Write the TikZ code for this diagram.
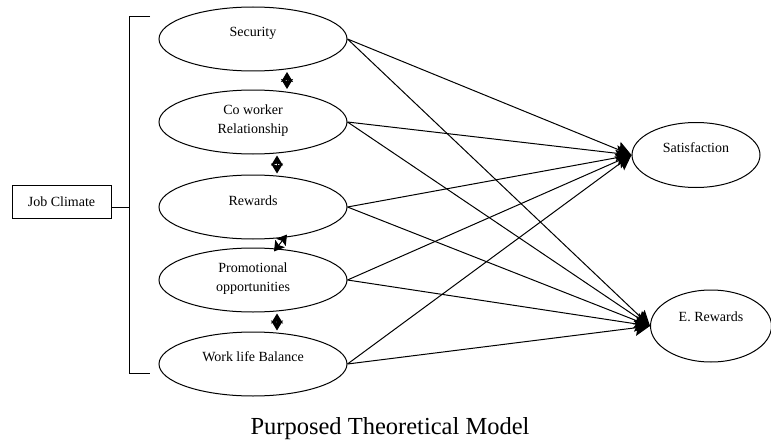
\documentclass[tikz,border=0pt]{standalone}
\usepackage{fontspec}
\setmainfont{Liberation Serif}
\usetikzlibrary{arrows.meta,shapes.geometric}
\begin{document}
\begin{tikzpicture}[x=1pt,y=-1pt,
  every node/.style={font=\fontsize{14}{16}\selectfont},
  lell/.style={draw,ellipse,minimum width=188pt,minimum height=64pt,inner sep=0pt,line width=1pt},
  lbl/.style={inner sep=0pt,align=center,font=\fontsize{14}{19}\selectfont},
  conn/.style={line width=1pt,-{Stealth[length=15pt,width=16pt,inset=2.5pt,fill=black]}},
  dbl/.style={line width=1pt,{Stealth[length=10pt,width=12pt,inset=2pt,fill=black]}-{Stealth[length=10pt,width=12pt,inset=2pt,fill=black]}},
  brk/.style={line width=1pt}]
\useasboundingbox (0,0) rectangle (771,444);
% left ellipses
\node[lell] (sec) at (253,39) {};
\node[lbl] (secT) at (253,33) {Security};
\node[lell] (cow) at (253,122) {};
\node[lbl] (cowT) at (253,121) {Co worker\\Relationship};
\node[lell] (rew) at (253,207) {};
\node[lbl] (rewT) at (253,201) {Rewards};
\node[lell] (pro) at (253,280) {};
\node[lbl] (proT) at (253,279) {Promotional\\opportunities};
\node[lell] (wlb) at (253,364) {};
\node[lbl] (wlbT) at (253,357) {Work life Balance};
% right ellipses
\node[draw,ellipse,minimum width=128pt,minimum height=65pt,inner sep=0pt,line width=1pt] (sat) at (696,155) {};
\node[lbl] (satT) at (696,148) {Satisfaction};
\node[draw,ellipse,minimum width=121pt,minimum height=72pt,inner sep=0pt,line width=1pt] (erw) at (711,326) {};
\node[lbl] (erwT) at (711,317) {E. Rewards};
% job climate
\node[draw,line width=1pt,minimum width=99pt,minimum height=33pt,inner sep=0pt] (job) at (61.5,201.5) {Job Climate};
% bracket
\coordinate (bT) at (129,17);
\coordinate (bTe) at (150,17);
\coordinate (bB) at (129,373);
\coordinate (bBe) at (150,373);
\coordinate (bM) at (129,207);
\draw[brk] (bTe) -- (bT) -- (bB) -- (bBe);
\draw[brk] (job.east |- bM) -- (bM);
% vertical double arrows
\draw[dbl] ([xshift=34pt,yshift=-0.5pt]sec.south) -- ([xshift=34pt,yshift=0.5pt]cow.north);
\draw[dbl] ([xshift=24pt,yshift=-1pt]cow.south) -- ([xshift=24pt,yshift=1pt]rew.north);
\draw[dbl] ([xshift=34pt,yshift=5pt]rew.south) -- ([xshift=21pt,yshift=-4pt]pro.north);
\draw[dbl] ([xshift=24pt,yshift=-1pt]pro.south) -- ([xshift=24pt,yshift=1pt]wlb.north);
% connectors
\foreach \s in {sec,cow,rew,pro,wlb}{
  \draw[conn] (\s.east) -- (sat.west);
  \draw[conn] (\s.east) -- (erw.west);
}
% caption
\node[inner sep=0pt,anchor=base,font=\fontsize{24.5}{28}\selectfont] (cap) at (390,434) {Purposed Theoretical Model};
\end{tikzpicture}
\end{document}
